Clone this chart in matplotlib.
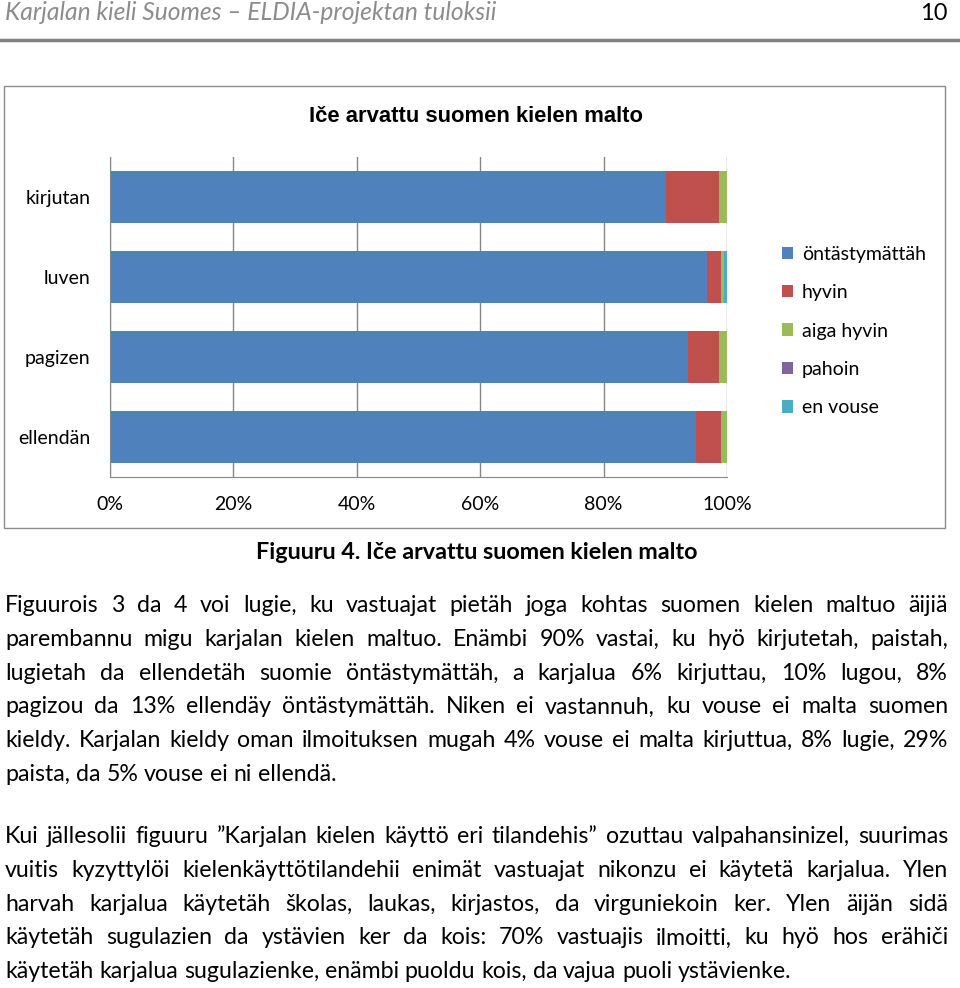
import numpy as np
import matplotlib
matplotlib.use('Agg')
import matplotlib.pyplot as plt
from matplotlib.patches import Rectangle
from matplotlib.lines import Line2D

# chart data (percent of respondents)
categories = ['kirjutan', 'luven', 'pagizen', 'ellendän']
series = ['öntästymättäh', 'hyvin', 'aiga hyvin', 'pahoin', 'en vouse']
ontastymattah = [90.1, 96.7, 93.7, 94.9]
hyvin = [8.6, 2.3, 5.0, 4.1]
aiga_hyvin = [1.3, 0.5, 1.3, 1.0]
pahoin = [0.0, 0.0, 0.0, 0.0]
en_vouse = [0.0, 0.5, 0.0, 0.0]
xtick_values = [0, 20, 40, 60, 80, 100]
colors = ['#4F81BD', '#C0504D', '#9BBB59', '#8064A2', '#4BACC6']

header = 'Karjalan kieli Suomes – ELDIA-projektan tuloksii'
page_no = '10'
chart_title = 'Iče arvattu suomen kielen malto'
caption = 'Figuuru 4. Iče arvattu suomen kielen malto'
para1 = [
    'Figuurois 3 da 4 voi lugie, ku vastuajat pietäh joga kohtas suomen kielen maltuo äijiä',
    'parembannu migu karjalan kielen maltuo. Enämbi 90% vastai, ku hyö kirjutetah, paistah,',
    'lugietah da ellendetäh suomie öntästymättäh, a karjalua 6% kirjuttau, 10% lugou, 8%',
    'pagizou da 13% ellendäy öntästymättäh. Niken ei vastannuh, ku vouse ei malta suomen',
    'kieldy. Karjalan kieldy oman ilmoituksen mugah 4% vouse ei malta kirjuttua, 8% lugie, 29%',
    'paista, da 5% vouse ei ni ellendä.',
]
para2 = [
    'Kui jällesolii figuuru ”Karjalan kielen käyttö eri tilandehis” ozuttau valpahansinizel, suurimas',
    'vuitis kyzyttylöi kielenkäyttötilandehii enimät vastuajat nikonzu ei käytetä karjalua. Ylen',
    'harvah karjalua käytetäh školas, laukas, kirjastos, da virguniekoin ker. Ylen äijän sidä',
    'käytetäh sugulazien da ystävien ker da kois: 70% vastuajis ilmoitti, ku hyö hos erähiči',
    'käytetäh karjalua sugulazienke, enämbi puoldu kois, da vajua puoli ystävienke.',
]

BODY = 'Lato'
W, H = 960, 988


def fx(px):
    return px / W


def fy(py):
    return 1 - py / H


fig = plt.figure(figsize=(9.6, 9.88), dpi=100)
renderer = fig.canvas.get_renderer()

# page header
fig.text(fx(5), fy(20), header, fontsize=17.7, style='italic', family=BODY,
         color='#8c8c8c', va='baseline')
fig.text(fx(948), fy(20), page_no, fontsize=17, family=BODY, ha='right', va='baseline')
fig.add_artist(Line2D([0, 1], [fy(40), fy(40)], color='#808080', lw=2.5))

# chart frame
fig.add_artist(Rectangle((fx(4), fy(528)), fx(945) - fx(4), fy(86) - fy(528),
                         fill=False, edgecolor='#8c8c8c', lw=1))
fig.text(fx(476), fy(116), chart_title, fontsize=15.8, weight='bold',
         family='Liberation Sans', ha='center', va='center')

ax = fig.add_axes([fx(110), fy(477), fx(727) - fx(110), fy(157) - fy(477)])
left = np.zeros(len(categories))
for name, vals, col in zip(series, [ontastymattah, hyvin, aiga_hyvin, pahoin, en_vouse], colors):
    ax.barh(categories, vals, left=left, height=0.64, color=col, label=name)
    left += np.array(vals)
ax.set_xlim(0, 100)
ax.set_ylim(3.5, -0.5)
ax.set_xticks(xtick_values)
ax.set_xticklabels([f'{v}%' for v in xtick_values])
ax.tick_params(length=0, labelsize=14)
ax.tick_params(axis='y', pad=14)
ax.tick_params(axis='x', pad=14)
for lab in ax.get_xticklabels() + ax.get_yticklabels():
    lab.set_family(BODY)
ax.grid(axis='x', color='#868686', lw=1)
ax.set_axisbelow(True)
for s in ['top', 'right']:
    ax.spines[s].set_visible(False)
for s in ['left', 'bottom']:
    ax.spines[s].set_color('#868686')

handles, labels = ax.get_legend_handles_labels()
fig.legend(handles, labels, loc='center left', bbox_to_anchor=(fx(764), fy(331)),
           frameon=False, prop={'family': BODY, 'size': 14}, handlelength=0.6,
           handleheight=0.6, handletextpad=0.45, labelspacing=1.1)

fig.text(fx(477), fy(552), caption, fontsize=16.8, weight='bold', family=BODY,
         ha='center', va='center')


def text_line(line, base_y, justify, x0=5, x1=948, size=16.7):
    words = line.split(' ')
    texts = [fig.text(0, fy(base_y), w, fontsize=size, family=BODY, va='baseline')
             for w in words]
    widths = [t.get_window_extent(renderer).width for t in texts]
    if justify and len(words) > 1:
        gap = (x1 - x0 - sum(widths)) / (len(words) - 1)
    else:
        probe = fig.text(0, 0, 'a a', fontsize=size, family=BODY)
        probe2 = fig.text(0, 0, 'aa', fontsize=size, family=BODY)
        gap = probe.get_window_extent(renderer).width - probe2.get_window_extent(renderer).width
        probe.remove()
        probe2.remove()
    x = x0
    for t, w in zip(texts, widths):
        t.set_x(fx(x))
        x += w + gap


for i, line in enumerate(para1):
    text_line(line, 612 + i * 33.8, justify=i < len(para1) - 1)
for i, line in enumerate(para2):
    text_line(line, 843 + i * 33.8, justify=i < len(para2) - 1)

fig.savefig('out.png', dpi=100)
